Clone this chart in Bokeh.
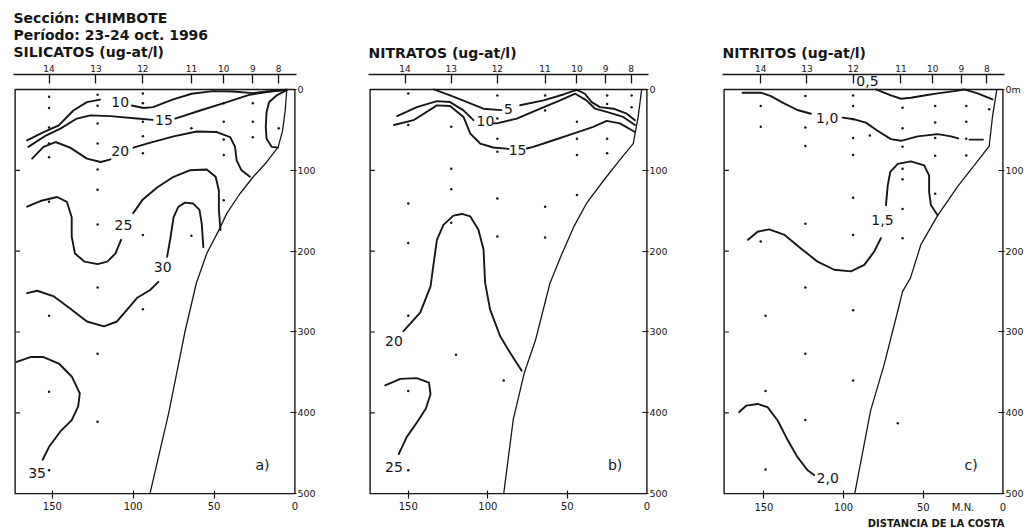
from bokeh.plotting import figure
from bokeh.models import Range1d, LinearAxis, FixedTicker, Title
from bokeh.layouts import row
from bokeh.embed import file_html
from bokeh.resources import INLINE
from bokeh.core.properties import value

INK = "#161616"
FONT = "DejaVu Sans"

# ---------------- shared scales ----------------
STATION_NAMES = ["14", "13", "12", "11", "10", "9", "8"]
STATION_NM = [152, 123, 94, 64, 44, 26, 10]
DIST_TICKS = [150, 100, 50, 0]
DIST_TICK_MARKS = [150, 100, 50]
DEPTH_TICKS = [0, 100, 200, 300, 400, 500]
LEFT_TICKS = [100, 200, 300, 400]
DEPTH_MAX = 500
TOP_SPACE_M = 18.5  # room above the sea surface for the station scale
UNIT_NM = 25        # where the "M.N." unit sits on the distance axis

HEADER_A = "Sección: CHIMBOTE\nPeríodo: 23-24 oct. 1996\nSILICATOS (ug-at/l)"
HEADER_B = "NITRATOS (ug-at/l)"
HEADER_C = "NITRITOS (ug-at/l)"
X_TITLE_C = "DISTANCIA DE LA COSTA"

# ---------------- a) SILICATOS ----------------
SIL_10_X1 = [165.6, 155.4, 146, 137, 128.6, 120.5]
SIL_10_D1 = [63, 52.7, 44.4, 26, 15.7, 12.5]
SIL_10_X2 = [100.8, 93.6, 87.7, 75.3, 63.8, 50.6, 38.3, 26, 17.5, 5]
SIL_10_D2 = [19.8, 23, 21.9, 12.3, 5.3, 2.1, 2.5, 4.6, 2.5, 0.4]
SIL_15_X1 = [164.8, 154, 145, 134.8, 126.5, 114, 97.7, 88]
SIL_15_D1 = [71, 57, 48.5, 36, 32, 33, 36, 37.6]
SIL_15_X2 = [74, 58.6, 42, 27.8, 17.5, 5]
SIL_15_D2 = [36, 26, 15.7, 6.5, 3.3, 0.4]
SIL_20_X1 = [162.5, 155.5, 148, 139, 128.6, 120, 114]
SIL_20_D1 = [85.6, 71, 65, 72, 85.6, 89.7, 86.4]
SIL_20_X2 = [99.8, 91.5, 75, 60.7, 48.3, 40, 37, 36, 33, 27.8]
SIL_20_D2 = [72, 67, 58, 52, 52.7, 59, 71, 87.7, 100, 108]
SIL_COAST_X = [5.2, 11.3, 15.9, 17.5, 18, 17.5, 14.4, 10.5]
SIL_COAST_D = [1, 7.4, 15.6, 28, 46.5, 61, 71, 72]
SIL_25_X1 = [165.6, 157.4, 147, 141, 138, 138, 136, 130, 122, 116, 111, 107.5]
SIL_25_D1 = [145, 138, 133, 139, 158, 182, 203, 213, 216, 213, 203, 186]
SIL_25_X2 = [100, 94, 85, 75, 65, 54.5, 49, 47, 47, 46]
SIL_25_D2 = [153, 136, 121, 108, 100, 99, 108, 125, 149, 174]
SIL_30_X1 = [165.6, 159.4, 149, 139, 128.6, 118, 110, 104, 97.7, 89.5, 84.4]
SIL_30_D1 = [252, 249, 256, 271, 287, 293, 287, 273, 258, 248, 238]
SIL_30_X2 = [79, 77, 75, 72, 68, 63, 59, 57.6, 56.6]
SIL_30_D2 = [207, 184, 158, 145, 140, 141, 149, 166, 195]
SIL_35_X = [172, 163.6, 155.4, 146, 138, 133, 134, 138, 145, 152, 156]
SIL_35_D = [337, 331, 331, 339, 355, 376, 392, 409, 423, 442, 458]
SIL_LABEL_X = [108, 81, 108, 106, 81.7, 159.4]
SIL_LABEL_D = [15.7, 37.4, 76, 168, 219, 474]
SIL_LABEL_T = ["10", "15", "20", "25", "30", "35"]
SLOPE_A_X = [5, 6, 7.6, 10.3, 17.5, 25.7, 34, 42, 47, 54.5, 61, 68, 78, 89.5]
SLOPE_A_D = [0, 26, 51, 71, 90, 108, 129, 153, 174, 203, 240, 300, 400, 499]
DOTS_A_X = [152] * 9 + [122] * 10 + [94] * 7 + [64] * 2 + [44] * 5 + [26] * 3 + [10]
DOTS_A_D = [9, 23, 47, 67, 84, 139, 280, 374, 471,
            6.5, 20, 42, 67, 99, 124, 167, 245, 327, 411,
            5, 17, 40, 58, 79, 180, 272,
            48, 181,
            17, 40, 62, 81, 137,
            17, 40, 59,
            48]

# ---------------- b) NITRATOS ----------------
NIT_5_X1 = [134, 123.7, 113, 102.8, 91.5]
NIT_5_D1 = [0, 7.4, 15.6, 23.8, 25.5]
NIT_5_X2 = [79.7, 65, 52.5, 44, 39, 34.7, 29.5, 21, 12.7, 7.5]
NIT_5_D2 = [19.5, 13.5, 6.2, 0.4, 5.3, 15.6, 21.8, 23.8, 30, 38]
NIT_10_X1 = [157, 144.6, 132, 123.7, 115.3, 109]
NIT_10_D1 = [33, 21.8, 14.4, 15.6, 25.9, 38]
NIT_10_X2 = [96.5, 94.4, 81.8, 67, 54.6, 45, 38, 32.6, 25.3, 14.9, 7.5]
NIT_10_D2 = [42, 42, 36, 23.8, 13.5, 5.3, 13.5, 23.8, 27.8, 34, 44]
NIT_15_X1 = [159, 146.7, 132, 123.7, 115.3, 111, 104.8, 96.5, 87]
NIT_15_D1 = [44, 38, 19.7, 20.4, 34, 54.6, 66.9, 71.8, 73.5]
NIT_15_X2 = [75.5, 71.4, 58.8, 46.3, 33.7, 25.3, 17, 7.5]
NIT_15_D2 = [73, 71, 62.8, 54.6, 46.4, 38.9, 42, 52.6]
NIT_20_X = [153, 142.5, 136, 134, 132, 127.9, 121.6, 116.3, 111, 105.9, 102.7, 101.7, 98.6, 92.3, 86, 78.7]
NIT_20_D = [299, 276, 243.5, 214.6, 186, 167.5, 156, 154, 157, 173.6, 198, 239, 272, 305, 325.6, 348]
NIT_25_X = [164.5, 155, 144.6, 137, 136, 139, 144.6, 151, 156]
NIT_25_D = [366, 358, 357, 362.5, 377, 395, 412, 430, 451]
NIT_LABEL_X = [87, 101.5, 81.3, 159, 159]
NIT_LABEL_D = [23.8, 39.4, 75, 311, 467]
NIT_LABEL_T = ["5", "10", "15", "20", "25"]
SLOPE_B_X = [3.3, 5.5, 8.6, 17, 27, 38, 46, 54, 61, 70, 77, 84, 90]
SLOPE_B_D = [0, 34, 67, 87, 112, 141, 170, 206, 240, 310, 350, 408, 500]
DOTS_B_X = [150] * 7 + [123] * 4 + [120] + [94] * 6 + [90] + [64] * 4 + [44] * 4 + [25] * 4 + [9.6] * 2
DOTS_B_D = [5, 44, 141, 190, 280, 373, 471,
            46, 98, 123.5, 165, 328,
            7.4, 36, 61, 77, 135, 182, 360,
            7.4, 26, 145, 183,
            40, 61, 81, 130.5,
            7.4, 18, 61, 79,
            7.4, 22]

# ---------------- c) NITRITOS ----------------
NTI_05_X = [79.7, 70.3, 64, 57.8, 49.4, 41, 30.6, 24.3, 15.9, 6.5]
NTI_05_D = [0, 7.4, 11.5, 10.2, 7.4, 4.9, 2, 0, 4.9, 12.3]
NTI_10_X1 = [163.4, 152, 145.6, 138.3, 129, 120.5]
NTI_10_D1 = [4, 4, 8.2, 16.3, 25.4, 30]
NTI_10_X2 = [100.6, 93.3, 86, 78.7, 70.3, 64, 53.5, 41, 32.6, 28]
NTI_10_D2 = [34.8, 36.9, 41, 51, 61.4, 63.5, 58, 55.3, 58, 60.5]
NTI_10_X3 = [21, 12.5]
NTI_10_D3 = [62, 62]
NTI_15_X1 = [160, 154, 146.7, 137, 126.8, 116.3, 105.9, 95.4, 87, 80.8, 76.6]
NTI_15_D1 = [186, 176, 173, 180, 196.6, 213, 223, 225, 217, 200.6, 184]
NTI_15_X2 = [73.4, 72.3, 70.7, 66, 57.8, 49.4, 46.3, 46.3, 45.2, 41]
NTI_15_D2 = [143, 119, 102, 92, 89, 94, 106.5, 127, 143, 155.6]
NTI_20_X = [165.5, 161, 154, 147.7, 141.4, 135, 129, 122.6, 118.5]
NTI_20_D = [399, 391, 389, 393, 409.5, 434, 454.5, 471, 477]
NTI_LABEL_X = [85, 110.3, 75.6, 110]
NTI_LABEL_D = [-10, 34.8, 162, 480]
NTI_LABEL_T = ["0,5", "1,0", "1,5", "2,0"]
SLOPE_C_X = [3.8, 6.5, 8.6, 18, 28, 41, 51.5, 58, 63, 66, 74.5, 83, 93]
SLOPE_C_D = [0, 33, 70, 94, 119, 156, 192, 233, 250, 274, 340, 397, 500]
DOTS_C_X = ([152] * 3 + [149] * 3 + [124] * 7 + [94] * 9 + [83.5] + [63] * 7 +
            [42.5] * 5 + [23] * 4 + [8.6] + [66])
DOTS_C_D = [20.5, 46, 188, 280, 373, 470,
            8, 47, 70, 166, 245, 327, 409,
            7.4, 20.5, 37, 60, 81, 134, 180, 273, 360,
            57,
            22.5, 48, 71, 98, 111, 148, 184,
            20.5, 41, 60, 82, 129,
            20.5, 40, 61, 81.6,
            24.6,
            413]


def make_panel(width, border_left, border_right, dist_max, header, zero_label,
               lines_x, lines_d, slope_x, slope_d, lab_x, lab_d, lab_t,
               dots_x, dots_d, letter, unit_label=None, x_title=None):
    p = figure(width=width, height=529, output_backend="svg", toolbar_location=None,
               x_range=Range1d(dist_max + 1, -1),
               y_range=Range1d(DEPTH_MAX + 1, -TOP_SPACE_M),
               x_axis_location=None, y_axis_location=None, title=None,
               min_border_left=border_left, min_border_right=border_right,
               min_border_top=74, min_border_bottom=35)
    p.grid.visible = False
    p.outline_line_color = None
    p.background_fill_color = "white"
    p.border_fill_color = "white"

    # station scale on top
    top = LinearAxis(ticker=FixedTicker(ticks=STATION_NM),
                     major_label_overrides={k: v for k, v in zip(STATION_NM, STATION_NAMES)},
                     major_tick_in=9, major_tick_out=0, minor_tick_line_color=None,
                     axis_line_color=INK, axis_line_width=1.3,
                     major_tick_line_color=INK, major_tick_line_width=1.3,
                     major_label_standoff=3, major_label_text_font=FONT,
                     major_label_text_font_size="9px", major_label_text_color=INK)
    p.add_layout(top, "above")

    p.add_layout(Title(text=header, align="left", text_font=FONT, text_font_size="14px",
                       text_font_style="bold", text_color=INK, text_line_height=1.08,
                       standoff=2), "above")

    # depth scale on the right
    right = LinearAxis(ticker=FixedTicker(ticks=DEPTH_TICKS),
                       major_label_overrides={0: zero_label},
                       major_tick_in=6, major_tick_out=0, minor_tick_line_color=None,
                       axis_line_color=None, major_tick_line_color=INK,
                       major_tick_line_width=1.2, major_label_standoff=1,
                       major_label_text_font=FONT, major_label_text_font_size="9.5px",
                       major_label_text_color=INK)
    p.add_layout(right, "right")

    # distance scale at the bottom (tick marks drawn as minor ticks)
    majors = DIST_TICKS + ([UNIT_NM] if unit_label else [])
    overrides = {UNIT_NM: unit_label} if unit_label else {}
    bottom = LinearAxis(ticker=FixedTicker(ticks=majors, minor_ticks=DIST_TICK_MARKS),
                        major_label_overrides=overrides,
                        major_tick_line_color=None,
                        minor_tick_in=4, minor_tick_out=4, minor_tick_line_color=INK,
                        minor_tick_line_width=1.2,
                        axis_line_color=None, major_label_standoff=1,
                        major_label_text_font=FONT, major_label_text_font_size="10px",
                        major_label_text_color=INK)
    p.add_layout(bottom, "below")
    if x_title:
        p.add_layout(Title(text=x_title, align="right", text_font=FONT,
                           text_font_size="10px", text_font_style="bold",
                           text_color=INK, standoff=0), "below")

    # section frame (sea surface to 500 m, offshore limit to coast)
    p.quad(left=[dist_max], right=[0], top=[0], bottom=[DEPTH_MAX],
           fill_color=None, line_color=INK, line_width=1.4)
    # inward ticks on the offshore edge
    p.segment(x0=[dist_max] * len(LEFT_TICKS), y0=LEFT_TICKS,
              x1=[dist_max - 3] * len(LEFT_TICKS), y1=LEFT_TICKS,
              line_color=INK, line_width=1.2)

    p.multi_line(xs=lines_x, ys=lines_d, line_color=INK, line_width=1.9,
                 line_join="round", line_cap="round")
    p.line(slope_x, slope_d, line_color=INK, line_width=1.3)
    p.scatter(dots_x, dots_d, size=2.5, color=INK, line_color=None)
    p.text(x=lab_x, y=lab_d, text=lab_t, text_font=value(FONT),
           text_font_size=value("14px"), text_align="center",
           text_baseline="middle", text_color=INK)
    p.text(x=[20], y=[464], text=[letter], text_font=value(FONT),
           text_font_size=value("14px"), text_align="center",
           text_baseline="middle", text_color=INK)
    return p


pa = make_panel(353, 13, 57, 173, HEADER_A, "0",
                [SIL_10_X1, SIL_10_X2, SIL_15_X1, SIL_15_X2, SIL_20_X1, SIL_20_X2,
                 SIL_COAST_X, SIL_25_X1, SIL_25_X2, SIL_30_X1, SIL_30_X2, SIL_35_X],
                [SIL_10_D1, SIL_10_D2, SIL_15_D1, SIL_15_D2, SIL_20_D1, SIL_20_D2,
                 SIL_COAST_D, SIL_25_D1, SIL_25_D2, SIL_30_D1, SIL_30_D2, SIL_35_D],
                SLOPE_A_X, SLOPE_A_D, SIL_LABEL_X, SIL_LABEL_D, SIL_LABEL_T,
                DOTS_A_X, DOTS_A_D, "a)")

pb = make_panel(350, 15, 55, 174, HEADER_B, "0",
                [NIT_5_X1, NIT_5_X2, NIT_10_X1, NIT_10_X2, NIT_15_X1, NIT_15_X2,
                 NIT_20_X, NIT_25_X],
                [NIT_5_D1, NIT_5_D2, NIT_10_D1, NIT_10_D2, NIT_15_D1, NIT_15_D2,
                 NIT_20_D, NIT_25_D],
                SLOPE_B_X, SLOPE_B_D, NIT_LABEL_X, NIT_LABEL_D, NIT_LABEL_T,
                DOTS_B_X, DOTS_B_D, "b)")

pc = make_panel(323, 19, 22, 175, HEADER_C, "0m",
                [NTI_05_X, NTI_10_X1, NTI_10_X2, NTI_10_X3, NTI_15_X1, NTI_15_X2, NTI_20_X],
                [NTI_05_D, NTI_10_D1, NTI_10_D2, NTI_10_D3, NTI_15_D1, NTI_15_D2, NTI_20_D],
                SLOPE_C_X, SLOPE_C_D, NTI_LABEL_X, NTI_LABEL_D, NTI_LABEL_T,
                DOTS_C_X, DOTS_C_D, "c)", unit_label="M.N.", x_title=X_TITLE_C)

layout = row(pa, pb, pc)
open("out.html", "w").write(file_html(layout, INLINE))
